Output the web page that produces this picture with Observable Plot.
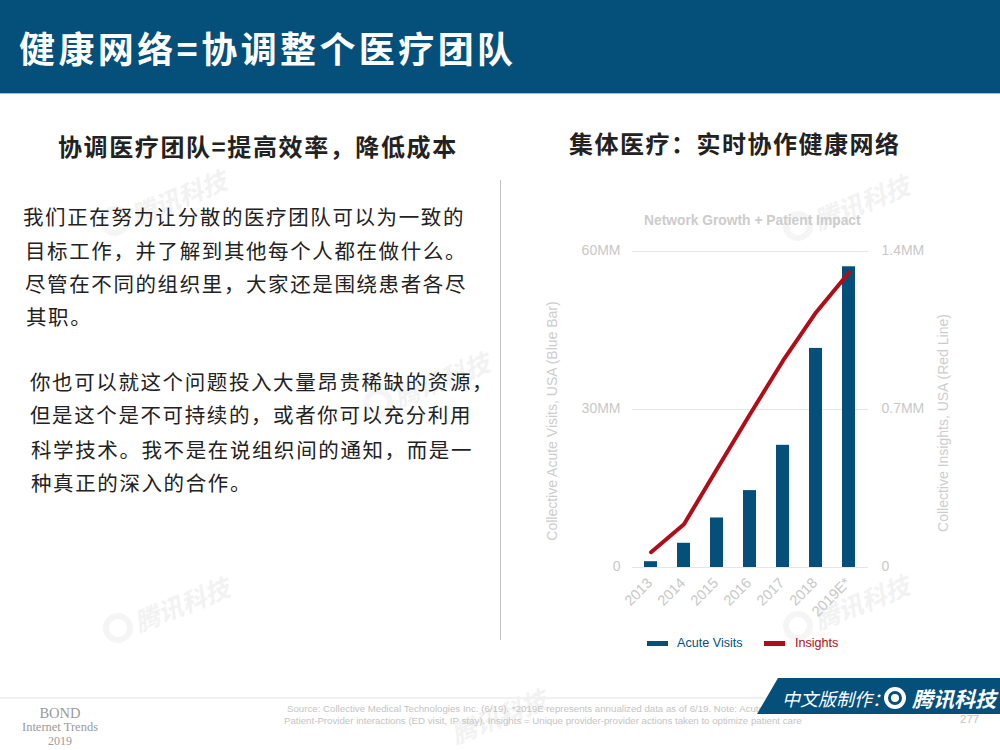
<!DOCTYPE html>
<html lang="zh">
<head>
<meta charset="utf-8">
<script src="https://cdn.jsdelivr.net/npm/d3@7"></script>
<script src="https://cdn.jsdelivr.net/npm/@observablehq/plot@0.6"></script>
<style>
html,body{margin:0;padding:0;background:#fff}
#page{position:relative;width:1000px;height:750px;overflow:hidden;font-family:"Noto Sans CJK SC",sans-serif}
#page>div{position:absolute;white-space:nowrap}
#header{left:0;top:0;width:1000px;height:94px;background:#04507b;border-bottom:1px solid #9fc0d0;box-sizing:border-box}
.t{line-height:1;transform:translateY(-50%)}
.body{font-size:20.5px;letter-spacing:1.6px;color:#222}
.wm{color:#f2f2f2;font-size:25px;font-weight:700;font-style:italic;transform:rotate(-22deg);transform-origin:left center;line-height:1}
.wmc{width:18px;height:18px;border:6px solid #f5f5f5;border-radius:50%}
.latin{font-family:"Liberation Sans",Arial,sans-serif}
#chart{left:520px;top:200px}
.foot{font-family:"Liberation Sans",Arial,sans-serif;font-size:9.7px;color:#c4c4c4;line-height:1;transform:translateY(-50%)}
.bond{font-family:"Liberation Serif",serif;color:#9a9a9a;text-align:center;width:120px;left:0;line-height:1;transform:translateY(-50%)}
.vlabel{font-family:"Liberation Sans",Arial,sans-serif;font-size:14px;color:#cdcdcd;line-height:1;transform:translate(-50%,-50%) rotate(-90deg)}
</style>
</head>
<body>
<div id="page"></div>
<script>
const years = ["2013","2014","2015","2016","2017","2018","2019E*"];
const acuteVisits = [1.1,4.6,9.4,14.6,23.2,41.6,57.1];
const insights = [0.068,0.192,0.436,0.679,0.916,1.13,1.307];
const leftTicks = [0,30,60];
const leftLabels = ["0","30MM","60MM"];
const rightTicks = [0,0.7,1.4];
const rightLabels = ["0","0.7MM","1.4MM"];
const title = "健康网络=协调整个医疗团队";
const leftHeading = "协调医疗团队=提高效率\uFF0C降低成本";
const rightHeading = "集体医疗\uFF1A实时协作健康网络";
const paragraphLines = [
  ["我们正在努力让分散的医疗团队可以为一致的",23,216],
  ["目标工作\uFF0C并了解到其他每个人都在做什么。",25,250],
  ["尽管在不同的组织里\uFF0C大家还是围绕患者各尽",25,283],
  ["其职。",26,316],
  ["你也可以就这个问题投入大量昂贵稀缺的资源\uFF0C",30,381],
  ["但是这个是不可持续的\uFF0C或者你可以充分利用",30,414],
  ["科学技术。我不是在说组织间的通知\uFF0C而是一",31,449],
  ["种真正的深入的合作。",31,482]
];
const watermarks = [[132,215],[135,622],[395,397],[815,220],[815,620],[452,734]];

const page = document.getElementById("page");
function add(html, css, cls){
  const d = document.createElement("div");
  d.innerHTML = html; d.style.cssText = css; if(cls) d.className = cls;
  page.appendChild(d); return d;
}
add("", "", ""); page.lastChild.id = "header";
add(title, "left:19px;top:47px;color:#fff;font-size:36px;font-weight:700;letter-spacing:3.4px", "t");
add(leftHeading, "left:58px;top:146px;color:#222;font-size:24px;font-weight:700;letter-spacing:1.6px", "t");
add(rightHeading, "left:569px;top:143px;color:#222;font-size:24px;font-weight:700;letter-spacing:1.5px", "t");
add("", "left:499.5px;top:180px;width:1.5px;height:460px;background:#c4c4c4");
for (const [x,y] of watermarks) {
  add("腾讯科技", `left:${x}px;top:${y-12}px`, "wm");
  if (y < 730) add("", `left:${x-32}px;top:${y-9}px`, "wmc");
}
for (const [s,x,y] of paragraphLines) add(s, `left:${x}px;top:${y}px`, "t body");

const rows = years.map((year,i)=>({year, visits:acuteVisits[i], insight:insights[i]}));
const ratio = leftTicks[2]/rightTicks[2];
const axisStyle = {fontFamily:'"Liberation Sans",Arial,sans-serif', fontSize:14, fill:"#c8c8c8"};
const chart = Plot.plot({
  width:440, height:420,
  marginLeft:112, marginRight:92, marginTop:51, marginBottom:53,
  style:{background:"transparent",overflow:"visible"},
  x:{domain:years, paddingInner:0.6, paddingOuter:0.3, label:null},
  y:{domain:[0,60], label:null},
  marks:[
    Plot.ruleY(leftTicks,{stroke:"#e6e6e6",strokeWidth:1.2}),
    Plot.barY(rows,{x:"year",y:"visits",fill:"#04507b"}),
    Plot.line(rows,{x:"year",y:d=>d.insight*ratio,stroke:"#b00d17",strokeWidth:4,curve:"linear"}),
    Plot.axisX({tickRotate:-45,tickSize:0,tickPadding:13,dx:-1,label:null,...axisStyle,fontSize:14.5}),
    Plot.axisY({anchor:"left",ticks:leftTicks,tickFormat:(d,i)=>leftLabels[i],tickSize:0,tickPadding:12,dy:-0.5,label:null,...axisStyle}),
    Plot.axisY({anchor:"right",ticks:leftTicks,tickFormat:(d,i)=>rightLabels[i],tickSize:0,tickPadding:13,dy:-0.5,label:null,...axisStyle})
  ]
});
const holder = add("", "", ""); holder.id = "chart"; holder.appendChild(chart);

add("Collective Acute Visits, USA (Blue Bar)", "left:552px;top:421px", "vlabel");
add("Collective Insights, USA (Red Line)", "left:943px;top:423px", "vlabel");
add("Network Growth + Patient Impact", 'left:644px;top:221px;color:#cccccc;font-size:13.8px;font-weight:700', "t latin");
add("", "left:647px;top:641px;width:21px;height:5px;background:#04507b");
add("Acute Visits", "left:677px;top:643px;color:#04507b;font-size:12.6px", "t latin");
add("", "left:764px;top:641px;width:21px;height:5px;background:#b00d17");
add("Insights", "left:795px;top:643px;color:#b00d17;font-size:12.6px", "t latin");

add("", "left:0;top:697px;width:1000px;height:2px;background:#f1f1f1");
add("BOND", "top:713px;font-size:14.5px", "bond");
add("Internet Trends", "top:727px;font-size:12.5px", "bond");
add("2019", "top:741px;font-size:12px", "bond");
add("Source: Collective Medical Technologies Inc. (6/19). *2019E represents annualized data as of 6/19. Note: Acute Visits =", "left:287px;top:709px", "foot");
add("Patient-Provider interactions (ED visit, IP stay). Insights = Unique provider-provider actions taken to optimize patient care", "left:284px;top:721px", "foot");
add("277", "left:960px;top:720px;font-size:11.5px", "foot");
add("", "left:757px;top:678px;width:243px;height:36px;background:#04507b;clip-path:polygon(21px 0,100% 0,100% 100%,0 100%)");
add("中文版制作\uFF1A", "left:782px;top:698px;color:#fff;font-size:18px;font-style:italic", "t");
add("", "left:884px;top:687px;width:14px;height:14px;border:4px solid #fff;border-radius:50%");
add("", "left:891px;top:694px;width:8px;height:8px;background:#fff;border-radius:50%");
add("腾讯科技", "left:912px;top:698px;color:#fff;font-size:21px;font-weight:700;font-style:italic", "t");
</script>
</body>
</html>
